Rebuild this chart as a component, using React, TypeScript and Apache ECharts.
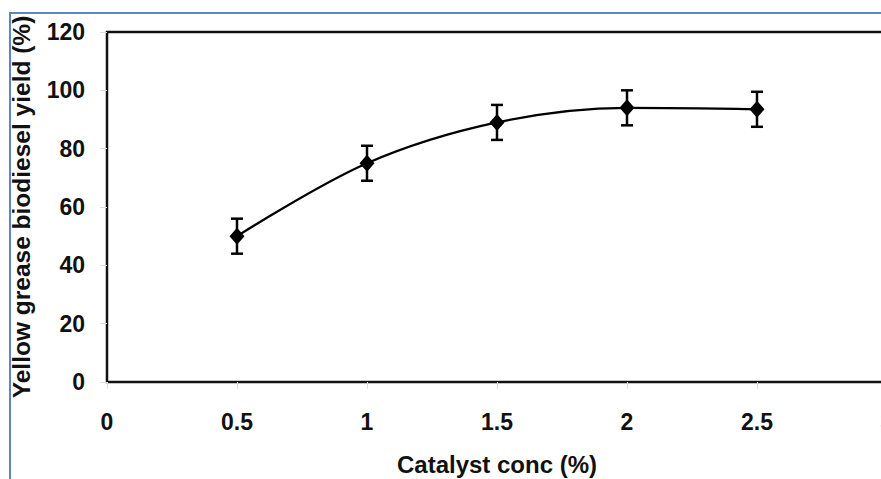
import React, { useEffect, useRef } from "react";
import * as echarts from "echarts";

const catalystConc = [0.5, 1, 1.5, 2, 2.5];
const yieldValues = [50, 75, 89, 94, 93.5];
const errorValues = [6, 6, 6, 6, 6];

const FONT = '"Liberation Sans", Arial, sans-serif';

export default function App() {
  const ref = useRef<HTMLDivElement>(null);
  useEffect(() => {
    if (!ref.current) return;
    const chart = echarts.init(ref.current, null, { renderer: "svg" });
    const lineData = catalystConc.map((x, i) => [x, yieldValues[i]]);
    const errData = catalystConc.map((x, i) => [x, yieldValues[i] - errorValues[i], yieldValues[i] + errorValues[i]]);
    chart.setOption({
      animation: false,
      backgroundColor: "#ffffff",
      grid: {
        left: 107,
        top: 32,
        width: 780,
        height: 350,
        outerBoundsMode: "none",
        containLabel: false,
        show: true,
        borderColor: "#111",
        borderWidth: 2.5,
        backgroundColor: "transparent",
      },
      graphic: [
        {
          type: "rect",
          z: -1,
          shape: { x: 10, y: 13, width: 900, height: 500 },
          style: { fill: "none", stroke: "#5b87c5", lineWidth: 2 },
        },
      ],
      xAxis: {
        type: "value",
        min: 0,
        max: 3,
        interval: 0.5,
        name: "Catalyst conc (%)",
        nameLocation: "middle",
        nameGap: 70,
        nameTextStyle: { fontFamily: FONT, fontWeight: "bold", fontSize: 24, color: "#111" },
        axisLine: { show: false },
        axisTick: { show: true, length: 7, lineStyle: { color: "#ddd", width: 1 } },
        axisLabel: { fontFamily: FONT, fontWeight: "bold", fontSize: 23, color: "#111", margin: 28 },
        splitLine: { show: false },
      },
      yAxis: {
        type: "value",
        min: 0,
        max: 120,
        interval: 20,
        name: "Yellow grease biodiesel yield (%)",
        nameLocation: "middle",
        nameGap: 73,
        nameRotate: 90,
        nameTextStyle: { fontFamily: FONT, fontWeight: "bold", fontSize: 24.5, color: "#111" },
        axisLine: { show: false },
        axisTick: { show: true, length: 7, lineStyle: { color: "#ddd", width: 1 } },
        axisLabel: { fontFamily: FONT, fontWeight: "bold", fontSize: 23, color: "#111", margin: 22 },
        splitLine: { show: false },
      },
      series: [
        {
          type: "line",
          data: lineData,
          smooth: 0.35,
          symbol: "diamond",
          symbolSize: [15, 17],
          itemStyle: { color: "#000" },
          lineStyle: { color: "#000", width: 2.2 },
          z: 3,
        },
        {
          type: "custom",
          data: errData,
          z: 2,
          renderItem: (params: any, api: any) => {
            const x = api.value(0);
            const top = api.coord([x, api.value(2)]);
            const bot = api.coord([x, api.value(1)]);
            const hw = 6;
            const style = { stroke: "#000", lineWidth: 2.5 };
            return {
              type: "group",
              children: [
                { type: "line", shape: { x1: top[0], y1: top[1], x2: bot[0], y2: bot[1] }, style },
                { type: "line", shape: { x1: top[0] - hw, y1: top[1], x2: top[0] + hw, y2: top[1] }, style },
                { type: "line", shape: { x1: bot[0] - hw, y1: bot[1], x2: bot[0] + hw, y2: bot[1] }, style },
              ],
            };
          },
        },
      ],
    });
    return () => chart.dispose();
  }, []);
  return (
    <div
      ref={ref}
      style={{ position: "fixed", left: 0, top: 0, width: 881, height: 479, background: "#fff" }}
    />
  );
}
